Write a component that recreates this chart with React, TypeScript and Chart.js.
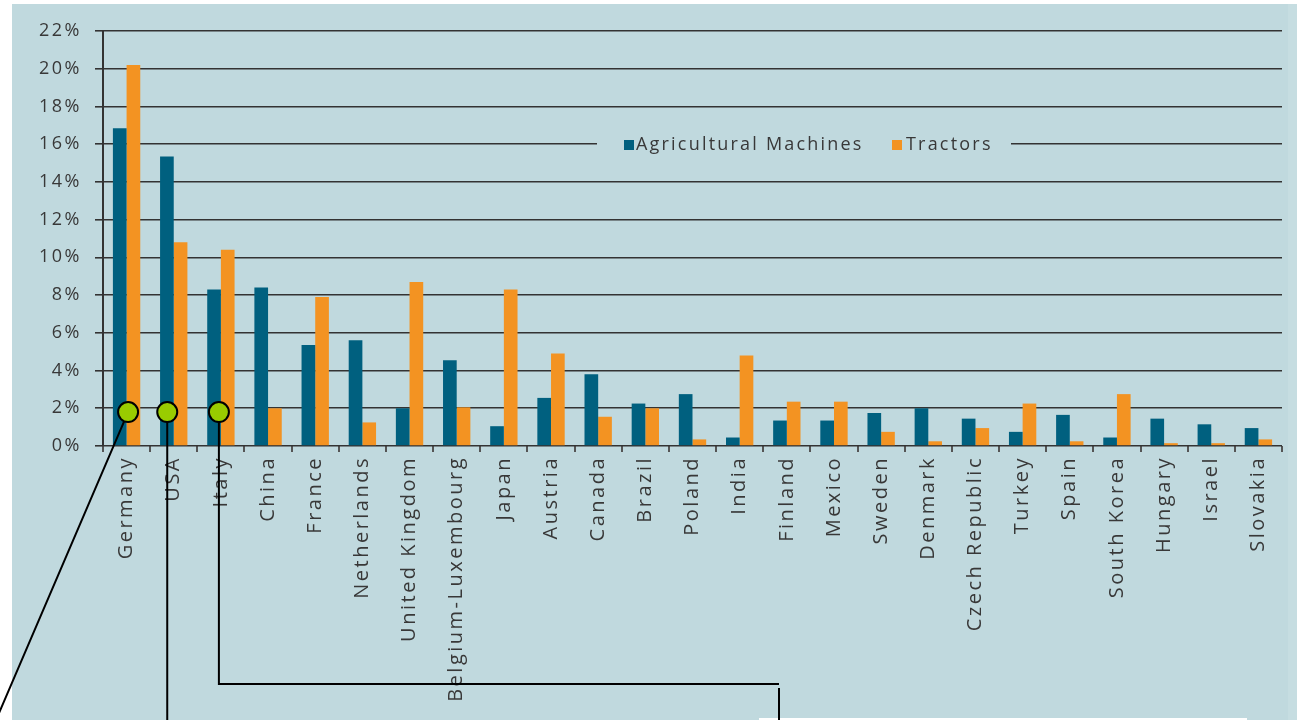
import React, { useEffect, useRef } from "react";
import { Chart, registerables } from "chart.js";

Chart.register(...registerables);

const countries = [
  "Germany", "USA", "Italy", "China", "France", "Netherlands", "United Kingdom",
  "Belgium-Luxembourg", "Japan", "Austria", "Canada", "Brazil", "Poland", "India",
  "Finland", "Mexico", "Sweden", "Denmark", "Czech Republic", "Turkey", "Spain",
  "South Korea", "Hungary", "Israel", "Slovakia",
];

const agriculturalMachines = [
  16.85, 15.35, 8.3, 8.4, 5.35, 5.6, 2.0, 4.55, 1.05, 2.55, 3.8, 2.25, 2.75, 0.45,
  1.35, 1.35, 1.75, 2.0, 1.45, 0.75, 1.65, 0.45, 1.45, 1.15, 0.95,
];

const tractors = [
  20.2, 10.8, 10.4, 2.0, 7.9, 1.25, 8.7, 2.05, 8.3, 4.9, 1.55, 2.0, 0.35, 4.8,
  2.35, 2.35, 0.75, 0.25, 0.95, 2.25, 0.25, 2.75, 0.15, 0.15, 0.35,
];

const yTicks = [0, 2, 4, 6, 8, 10, 12, 14, 16, 18, 20, 22];

// callout markers: category index, value height of the marker
const calloutCategories = [0, 1, 2];
const calloutLevel = 1.8;

const BG = "#c0d9de";
const TEAL = "#00607f";
const ORANGE = "#f39322";
const TEXT = "#383838";
const FONT_FAMILY = "'Open Sans', sans-serif";

export default function App() {
  const ref = useRef<HTMLCanvasElement>(null);

  useEffect(() => {
    const canvas = ref.current!;
    const spacingPlugin = {
      id: "spacing",
      beforeUpdate(chart: any) {
        chart.ctx.letterSpacing = "2.5px";
      },
      beforeDraw(chart: any) {
        const ctx = chart.ctx;
        ctx.letterSpacing = "2.5px";
        ctx.save();
        ctx.fillStyle = "#ffffff";
        ctx.fillRect(0, 0, chart.width, chart.height);
        ctx.fillStyle = "#c6dde1";
        ctx.fillRect(1288, 4, chart.width - 1288, chart.height - 4);
        ctx.fillStyle = BG;
        ctx.fillRect(12, 4, 1276, chart.height - 4);
        ctx.fillStyle = "#ffffff";
        ctx.fillRect(759, 718, 488, 2);
        ctx.restore();
      },
      afterDraw(chart: any) {
        const ctx = chart.ctx;
        const xs = chart.scales.x;
        const ys = chart.scales.y;
        ctx.save();
        // legend box
        ctx.fillStyle = BG;
        ctx.fillRect(597, 132, 414, 22);
        ctx.fillStyle = TEAL;
        ctx.fillRect(624, 140, 10, 10);
        ctx.fillStyle = ORANGE;
        ctx.fillRect(892, 140, 10, 10);
        ctx.fillStyle = TEXT;
        ctx.font = `18px ${FONT_FAMILY}`;
        ctx.letterSpacing = "2.2px";
        ctx.textBaseline = "alphabetic";
        ctx.textAlign = "left";
        ctx.fillText("Agricultural Machines", 636, 150);
        ctx.fillText("Tractors", 906, 150);

        // callouts
        const yc = ys.getPixelForValue(calloutLevel);
        const offsets = [1.5, -6.5, -2];
        const pts = calloutCategories.map((c, i) => ({
          x: xs.getPixelForValue(c) + offsets[i],
          y: yc,
        }));
        ctx.strokeStyle = "#000";
        ctx.lineWidth = 2;
        ctx.beginPath();
        ctx.moveTo(pts[0].x, pts[0].y);
        ctx.lineTo(-4, 720);
        ctx.moveTo(pts[1].x, pts[1].y);
        ctx.lineTo(pts[1].x, 720);
        ctx.moveTo(pts[2].x, pts[2].y);
        ctx.lineTo(pts[2].x, 684);
        ctx.lineTo(779, 684);
        ctx.moveTo(779, 688);
        ctx.lineTo(779, 720);
        ctx.stroke();
        pts.forEach((p) => {
          ctx.beginPath();
          ctx.arc(p.x, p.y, 10, 0, Math.PI * 2);
          ctx.fillStyle = "#99cc00";
          ctx.fill();
          ctx.lineWidth = 2;
          ctx.strokeStyle = "#000";
          ctx.stroke();
        });
        ctx.restore();
      },
    };

    const chart = new Chart(canvas, {
      type: "bar",
      data: {
        labels: countries,
        datasets: [
          {
            label: "Agricultural Machines",
            data: agriculturalMachines,
            backgroundColor: TEAL,
            barPercentage: 1,
            categoryPercentage: 0.58,
          },
          {
            label: "Tractors",
            data: tractors,
            backgroundColor: ORANGE,
            barPercentage: 1,
            categoryPercentage: 0.58,
          },
        ],
      },
      options: {
        responsive: false,
        animation: false,
        events: [],
        layout: { padding: { left: 0, top: 31, right: 15, bottom: 0 } },
        plugins: {
          legend: { display: false },
          tooltip: { enabled: false },
        },
        scales: {
          x: {
            offset: true,
            grid: {
              display: true,
              drawOnChartArea: false,
              drawTicks: true,
              tickLength: 6,
              color: "#555",
              lineWidth: 2,
              offset: true,
            },
            border: { display: false },
            ticks: {
              minRotation: 90,
              maxRotation: 90,
              autoSkip: false,
              padding: 4,
              color: TEXT,
              font: { size: 20, family: FONT_FAMILY },
            },
            afterFit(scale: any) {
              scale.height = 274;
            },
          },
          y: {
            min: 0,
            max: 22,
            afterBuildTicks(scale: any) {
              scale.ticks = yTicks.map((v) => ({ value: v }));
            },
            grid: {
              color: "#333",
              lineWidth: 1.6,
              tickLength: 8,
            },
            border: { display: true, color: "#333", width: 2 },
            ticks: {
              padding: 13,
              color: TEXT,
              font: { size: 18, family: FONT_FAMILY },
              callback: (v: any) => `${v}%`,
            },
            afterFit(scale: any) {
              scale.width = 103;
            },
          },
        },
      },
      plugins: [spacingPlugin],
    });
    return () => chart.destroy();
  }, []);

  return (
    <div style={{ position: "fixed", left: 0, top: 0, width: 1297, height: 720 }}>
      <canvas ref={ref} width={1297} height={720} style={{ display: "block" }} />
    </div>
  );
}
